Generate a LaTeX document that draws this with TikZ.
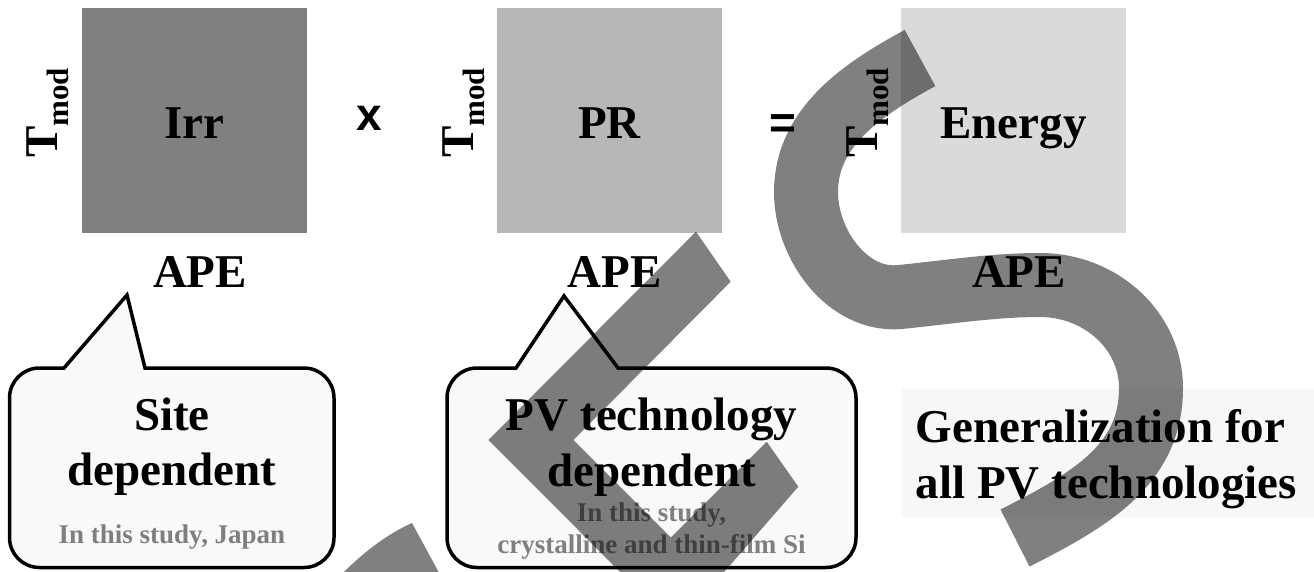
\documentclass[tikz,border=0pt]{standalone}
\usepackage{fontspec}
\setmainfont{Liberation Serif}
\newfontfamily\opsans{Liberation Sans}
\definecolor{tileA}{HTML}{808080}
\definecolor{tileB}{HTML}{B7B7B7}
\definecolor{tileC}{HTML}{DADADA}
\definecolor{bubblefill}{HTML}{F9F9F9}
\definecolor{genfill}{HTML}{F7F7F7}
\definecolor{note}{HTML}{7F7F7F}
\definecolor{bandgray}{HTML}{808080}
\begin{document}
\begin{tikzpicture}[x=1pt,y=-1pt,
  big/.style={font=\bfseries\fontsize{47}{56}\selectfont, inner sep=0pt},
  small/.style={font=\bfseries\fontsize{27}{32}\selectfont, inner sep=0pt, text=note},
  tile/.style={minimum width=225pt, minimum height=225pt, inner sep=0pt,
    text height=35pt, text depth=0pt, font=\bfseries\fontsize{47}{56}\selectfont},
  axislabel/.style={rotate=90, anchor=base west, inner sep=0pt,
    font=\bfseries\fontsize{47}{56}\selectfont},
  op/.style={font=\opsans\bfseries\fontsize{46}{56}\selectfont, inner sep=0pt, anchor=base},
  bubble/.style={draw=black, line width=3.5pt, fill=bubblefill, line join=miter},
  band/.style={fill=bandgray, blend mode=multiply},
  bandline/.style={draw=bandgray, line cap=butt, blend mode=multiply},
]
% canvas
\useasboundingbox (0,0) rectangle (1314,571);
\fill[white] (0,0) rectangle (1314,571);

% the three maps
\node[tile, fill=tileA] (irr) at (194.5,120.5) {Irr};
\node[tile, fill=tileB] (pr) at (609.5,120.5) {PR};
\node[tile, fill=tileC] (energy) at (1013.5,120.5) {Energy};

% vertical axis labels
\node[axislabel] (tirr) at (57,158) {T\raisebox{-11pt}{\fontsize{31}{31}\selectfont mod}};
\node[axislabel] (tpr) at (473,158) {T\raisebox{-11pt}{\fontsize{31}{31}\selectfont mod}};
\node[axislabel] (ten) at (877,158) {T\raisebox{-11pt}{\fontsize{31}{31}\selectfont mod}};

% horizontal axis labels
\node[big, anchor=base] (apeirr) at (200,287) {APE};
\node[big, anchor=base] (apepr) at (614.5,287) {APE};
\node[big, anchor=base] (apeen) at (1019,287) {APE};

% operators
\node[op] (times) at (369,130) {x};
\node[op] (equals) at (783,138) {=};

% speech bubbles
\path[bubble] (64,368) -- (127,295) -- (145,368) -- (304,368)
  .. controls (320.6,368) and (334,381.4) .. (334,398) -- (334,537.5)
  .. controls (334,554.1) and (320.6,567.5) .. (304,567.5) -- (39.5,567.5)
  .. controls (22.9,567.5) and (9.5,554.1) .. (9.5,537.5) -- (9.5,398)
  .. controls (9.5,381.4) and (22.9,368) .. (39.5,368) -- cycle;
\path[bubble] (516,368) -- (564,296) -- (618,368) -- (826,368)
  .. controls (842.6,368) and (856,381.4) .. (856,398) -- (856,537.5)
  .. controls (856,554.1) and (842.6,567.5) .. (826,567.5) -- (477,567.5)
  .. controls (460.4,567.5) and (447,554.1) .. (447,537.5) -- (447,398)
  .. controls (447,381.4) and (460.4,368) .. (477,368) -- cycle;

\node[big, anchor=base] (site) at (172,430) {Site};
\node[big, anchor=base] (sitedep) at (172,485) {dependent};
\node[small, anchor=base] (sitenote) at (172,543) {In this study, Japan};

\node[big, anchor=base] (pv) at (651.5,430) {PV technology};
\node[big, anchor=base] (pvdep) at (651.5,486) {dependent};
\node[small, anchor=base] (pvnote) at (651.5,521) {In this study,};
\node[small, anchor=base] (pvnotetwo) at (651.5,553) {crystalline and thin-film Si};

% generalization panel
\node[fill=genfill, minimum width=412pt, minimum height=128pt, inner sep=0pt,
  anchor=north west] (genbox) at (902,389) {};
\node[big, anchor=base west] (genone) at (915.5,442) {Generalization for};
\node[big, anchor=base west] (gentwo) at (915.5,498) {all PV technologies};

% grey bands laid over everything
\begin{scope}
\clip (0,0) rectangle (1314,571);
\draw[bandline, line width=64pt] (920,58)
  .. controls (863,89) and (806,127) .. (806,192)
  .. controls (806,245) and (848,302) .. (900,297)
  .. controls (947,292.3) and (993,285) .. (1040,285)
  .. controls (1101,285) and (1151,331) .. (1151,388)
  .. controls (1151,465) and (1090,500) .. (1015,538);
\fill[band] (696,231.7) -- (730.7,281.7) -- (573.3,440) -- (670.85,537.5)
  -- (766.7,441.7) -- (798.3,486.7) -- (675.8,627.6) -- (488.3,440) -- cycle;
\fill[band] (412,523) -- (443,580) -- (336,580)
  .. controls (360,555) and (385,535) .. (412,523) -- cycle;
\end{scope}
\end{tikzpicture}
\end{document}
